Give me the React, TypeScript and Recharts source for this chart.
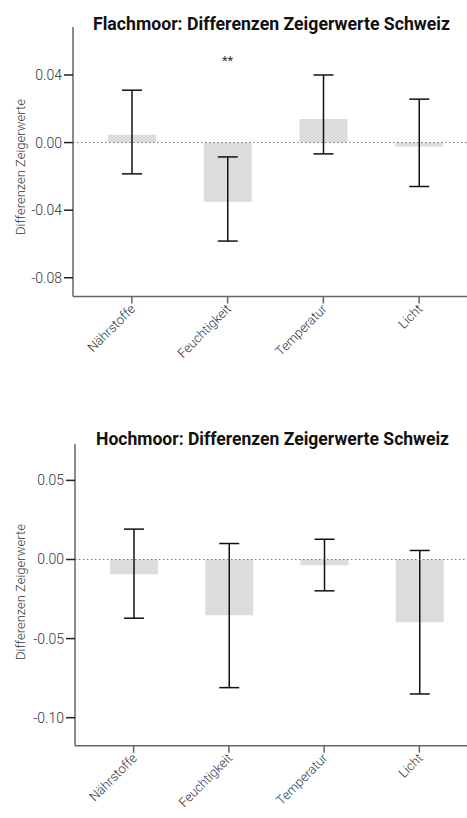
import React from 'react';
import { BarChart, Bar, XAxis, YAxis, ErrorBar, ReferenceLine, ReferenceDot } from 'recharts';

const categories = ['Nährstoffe', 'Feuchtigkeit', 'Temperatur', 'Licht'];

const flachMean = [0.0046, -0.035, 0.014, -0.0024];
const flachLower = [-0.0185, -0.0583, -0.0067, -0.026];
const flachUpper = [0.031, -0.0085, 0.04, 0.0257];
const flachTicks = [-0.08, -0.04, 0, 0.04];
const flachDomain = [-0.0911, 0.0684];
const flachSignificance = { category: 'Feuchtigkeit', label: '**', y: 0.0484 };

const hochMean = [-0.0093, -0.0352, -0.0036, -0.0397];
const hochLower = [-0.0371, -0.081, -0.0198, -0.085];
const hochUpper = [0.0192, 0.0101, 0.0128, 0.0057];
const hochTicks = [-0.1, -0.05, 0, 0.05];
const hochDomain = [-0.1177, 0.073];

const titleFlach = 'Flachmoor: Differenzen Zeigerwerte Schweiz';
const titleHoch = 'Hochmoor: Differenzen Zeigerwerte Schweiz';
const yLabel = 'Differenzen Zeigerwerte';

const FONT = 'Roboto, "DejaVu Sans", sans-serif';

function build(mean: number[], lower: number[], upper: number[]) {
  return categories.map((c, i) => ({
    name: c,
    mean: mean[i],
    err: [mean[i] - lower[i], upper[i] - mean[i]],
  }));
}

const flachData = build(flachMean, flachLower, flachUpper);
const hochData = build(hochMean, hochLower, hochUpper);

function XTick(props: any) {
  const { x, y, payload } = props;
  return (
    <g transform={`translate(${x},${y})`} opacity={0.99}>
      <text
        x={0}
        y={0}
        dy={6}
        transform="rotate(-45)"
        textAnchor="end"
        fontSize={13}
        fontFamily={FONT}
        fontWeight={300}
        fill="#333"
      >
        {payload.value}
      </text>
    </g>
  );
}

function Panel(props: any) {
  const { data, domain, ticks, height, marginTop, yWidth, xHeight, sig } = props;
  return (
    <BarChart
      width={467}
      height={height}
      data={data}
      margin={{ top: marginTop, right: 0, bottom: 0, left: 0 }}
      barSize={48}
    >
      <XAxis
        dataKey="name"
        height={xHeight}
        padding={{ left: 11, right: 0 }}
        axisLine={{ stroke: '#666', strokeWidth: 1.5 }}
        tickLine={{ stroke: '#666', strokeWidth: 1.5 }}
        tickSize={7}
        tickMargin={2}
        interval={0}
        tick={<XTick />}
      />
      <YAxis
        width={yWidth}
        domain={domain}
        ticks={ticks}
        allowDataOverflow
        axisLine={{ stroke: '#666', strokeWidth: 1.5 }}
        tickLine={{ stroke: '#222', strokeWidth: 1.5 }}
        tickSize={9}
        tickMargin={2}
        tickFormatter={(v: number) => v.toFixed(2)}
        tick={{ fontSize: 14, fontFamily: FONT, fontWeight: 300, fill: '#333' }}
      />
      <Bar dataKey="mean" fill="#dcdcdc" isAnimationActive={false}>
        <ErrorBar dataKey="err" width={10} stroke="#111" strokeWidth={1.5} direction="y" />
      </Bar>
      <ReferenceLine y={0} stroke="#777" strokeDasharray="1.5 2.5" strokeWidth={1} />
      {sig ? (
        <ReferenceDot
          x={sig.category}
          y={sig.y}
          r={0}
          fill="none"
          stroke="none"
          label={{ value: sig.label, position: 'center', fontSize: 13, fontFamily: FONT, fill: '#333' }}
        />
      ) : null}
    </BarChart>
  );
}

export default function App() {
  return (
    <div style={{ position: 'absolute', left: 0, top: 0, width: 467, height: 818, background: '#fff' }}>
      <div style={{ position: 'absolute', left: 0, top: 0 }}>
        <Panel
          data={flachData}
          domain={flachDomain}
          ticks={flachTicks}
          height={400}
          marginTop={27}
          yWidth={73}
          xHeight={103.5}
          sig={flachSignificance}
        />
      </div>
      <div style={{ position: 'absolute', left: 0, top: 410 }}>
        <Panel
          data={hochData}
          domain={hochDomain}
          ticks={hochTicks}
          height={408}
          marginTop={34}
          yWidth={75}
          xHeight={72.3}
        />
      </div>
      <svg width={467} height={818} style={{ position: 'absolute', left: 0, top: 0, pointerEvents: 'none' }}>
        <text x={93} y={30} fontSize={18} fontWeight={700} fontFamily={FONT} fill="#111" textLength={357} lengthAdjust="spacingAndGlyphs">
          {titleFlach}
        </text>
        <text x={96} y={445} fontSize={18} fontWeight={700} fontFamily={FONT} fill="#111" textLength={353} lengthAdjust="spacingAndGlyphs">
          {titleHoch}
        </text>
        <text transform="translate(20,167) rotate(-90)" textAnchor="middle" dominantBaseline="central" fontSize={13} fontWeight={300} fontFamily={FONT} fill="#333">
          {yLabel}
        </text>
        <text transform="translate(20,592) rotate(-90)" textAnchor="middle" dominantBaseline="central" fontSize={13} fontWeight={300} fontFamily={FONT} fill="#333">
          {yLabel}
        </text>
      </svg>
    </div>
  );
}
